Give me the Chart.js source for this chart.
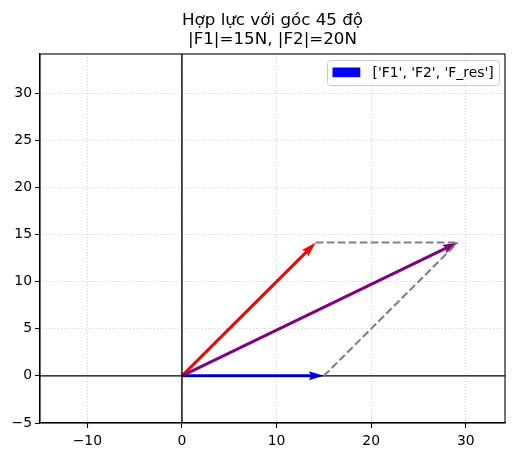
<!DOCTYPE html>
<html>
<head>
<meta charset="utf-8">
<script src="https://cdn.jsdelivr.net/npm/chart.js@4"></script>
<style>
  body { margin: 0; background: #fff; }
  canvas { display: block; }
</style>
</head>
<body>
<canvas id="grafico" width="515" height="457"></canvas>
<script>
// vectors (components, origin at 0,0)
const vecNames = ['F1', 'F2', 'F_res'];
const vecX = [15, 14.14, 29.14];
const vecY = [0, 14.14, 14.14];
const vecColors = ['#0000ff', '#ff0000', '#800080'];

// parallelogram dashed sides
const dashX = [[14.14, 29.14], [15, 29.14]];
const dashY = [[14.14, 14.14], [0, 14.14]];

const xTicks = [-10, 0, 10, 20, 30];
const yTicks = [-5, 0, 5, 10, 15, 20, 25, 30];
const xMin = -15, xMax = 34.14;
const yMin = -5, yMax = 34.14;

const titulo = ['Hợp lực với góc 45 độ', '|F1|=15N, |F2|=20N'];
const fonte = 'DejaVu Sans';

function rotulo(v) {
    return v < 0 ? '\u2212' + Math.abs(v) : String(v);
}

let datasets = [];
for (let i = 0; i < vecNames.length; i++) {
    datasets.push({
        label: vecNames[i],
        data: [{x: 0, y: 0}, {x: vecX[i], y: vecY[i]}],
        showLine: false,
        pointRadius: 0,
        seta: vecColors[i]
    });
}
for (let i = 0; i < dashX.length; i++) {
    datasets.push({
        label: 'lado' + i,
        data: [{x: dashX[i][0], y: dashY[i][0]}, {x: dashX[i][1], y: dashY[i][1]}],
        showLine: true,
        borderColor: '#808080',
        borderWidth: 2.1,
        borderDash: [7.7, 3.3],
        pointRadius: 0
    });
}

// quiver-like arrows + axis lines at 0
const setas = {
    id: 'setas',
    beforeDatasetsDraw(chart) {
        const ctx = chart.ctx;
        const area = chart.chartArea;
        ctx.save();
        ctx.beginPath();
        ctx.rect(area.left, area.top, area.right - area.left, area.bottom - area.top);
        ctx.clip();
        const w = 3, hw = 9, hl = 15, hal = 13.5;
        chart.data.datasets.forEach((ds, i) => {
            if (!ds.seta) return;
            const pts = chart.getDatasetMeta(i).data;
            const x0 = pts[0].x, y0 = pts[0].y, x1 = pts[1].x, y1 = pts[1].y;
            const L = Math.hypot(x1 - x0, y1 - y0);
            const ux = (x1 - x0) / L, uy = (y1 - y0) / L;
            const vx = -uy, vy = ux;
            const poly = [[0, -w / 2], [L - hal, -w / 2], [L - hl, -hw / 2], [L, 0],
                          [L - hl, hw / 2], [L - hal, w / 2], [0, w / 2]];
            ctx.beginPath();
            poly.forEach((p, k) => {
                const px = x0 + ux * p[0] + vx * p[1];
                const py = y0 + uy * p[0] + vy * p[1];
                if (k === 0) ctx.moveTo(px, py); else ctx.lineTo(px, py);
            });
            ctx.closePath();
            ctx.fillStyle = ds.seta;
            ctx.fill();
        });
        // axhline / axvline
        const px0 = chart.scales.x.getPixelForValue(0);
        const py0 = chart.scales.y.getPixelForValue(0);
        ctx.strokeStyle = '#000';
        ctx.lineWidth = 1.4;
        ctx.beginPath();
        ctx.moveTo(area.left, py0);
        ctx.lineTo(area.right, py0);
        ctx.moveTo(px0, area.top);
        ctx.lineTo(px0, area.bottom);
        ctx.stroke();
        ctx.restore();
    },
    afterDraw(chart) {
        const ctx = chart.ctx;
        const area = chart.chartArea;
        ctx.save();
        // frame
        ctx.strokeStyle = '#000';
        ctx.lineWidth = 1.1;
        ctx.strokeRect(area.left, area.top, area.right - area.left, area.bottom - area.top);
        // title, centred over the axes
        const cx = (area.left + area.right) / 2;
        ctx.fillStyle = '#000';
        ctx.font = '16.7px "' + fonte + '"';
        ctx.textAlign = 'center';
        ctx.textBaseline = 'alphabetic';
        ctx.fillText(titulo[0], cx, 24.5);
        ctx.fillText(titulo[1], cx, 44.2);
        // legend
        const texto = "['" + vecNames.join("', '") + "']";
        const bx = area.right - 177.5, by = area.top + 6.5, bw = 172, bh = 25, r = 3;
        ctx.beginPath();
        ctx.roundRect(bx, by, bw, bh, r);
        ctx.fillStyle = 'rgba(255,255,255,0.8)';
        ctx.fill();
        ctx.strokeStyle = '#cccccc';
        ctx.lineWidth = 1;
        ctx.stroke();
        ctx.fillStyle = vecColors[0];
        ctx.fillRect(bx + 5, by + 7, 27.8, 9.7);
        ctx.fillStyle = '#000';
        ctx.font = '13.9px "' + fonte + '"';
        ctx.textAlign = 'left';
        ctx.textBaseline = 'middle';
        ctx.fillText(texto, bx + 45, by + 12.5);
        ctx.restore();
    }
};

const config = {
    type: 'scatter',
    data: {datasets: datasets},
    options: {
        responsive: false,
        animation: false,
        layout: {padding: {left: 0, right: 10, top: 54, bottom: 0}},
        plugins: {
            legend: {display: false},
            tooltip: {enabled: false},
            title: {display: false}
        },
        scales: {
            x: {
                type: 'linear',
                min: xMin,
                max: xMax,
                afterBuildTicks: s => { s.ticks = xTicks.map(v => ({value: v})); },
                afterFit: s => { s.height = 34; },
                ticks: {
                    color: '#000',
                    font: {family: fonte, size: 13.9},
                    padding: 5,
                    maxRotation: 0,
                    callback: v => rotulo(v)
                },
                grid: {color: 'rgba(176,176,176,0.75)', lineWidth: 0.8, tickColor: '#000', tickLength: 5, tickWidth: 1.1},
                border: {color: '#000', width: 1.1, dash: [1, 2]}
            },
            y: {
                type: 'linear',
                min: yMin,
                max: yMax,
                afterBuildTicks: s => { s.ticks = yTicks.map(v => ({value: v})); },
                afterFit: s => { s.width = 40; },
                ticks: {
                    color: '#000',
                    font: {family: fonte, size: 13.9},
                    padding: 3,
                    callback: v => rotulo(v)
                },
                grid: {color: 'rgba(176,176,176,0.75)', lineWidth: 0.8, tickColor: '#000', tickLength: 5, tickWidth: 1.1},
                border: {color: '#000', width: 1.1, dash: [1, 2]}
            }
        }
    },
    plugins: [setas]
};

let ctx = new Chart(document.getElementById('grafico'), config);
</script>
</body>
</html>
